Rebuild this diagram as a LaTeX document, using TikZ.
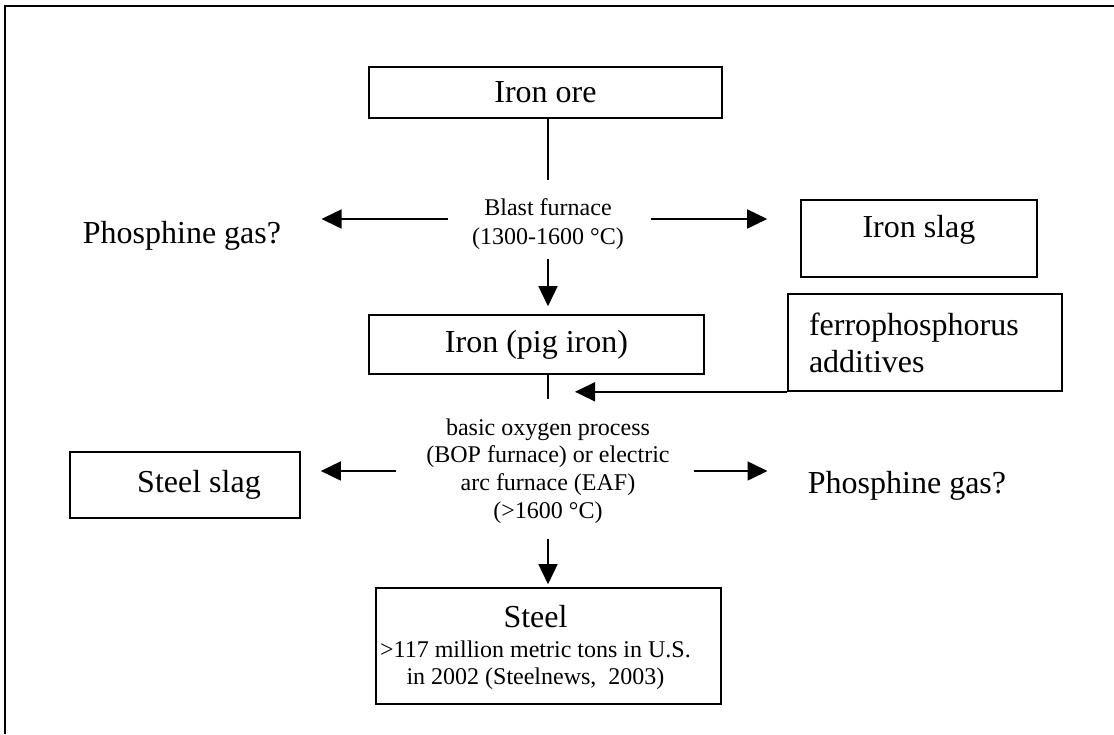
\documentclass[tikz,border=0pt]{standalone}
\usepackage{fontspec}
\setmainfont{Liberation Serif}
\usetikzlibrary{arrows.meta}
\newcommand{\fbig}{\fontsize{16}{18.5}\selectfont}
\newcommand{\fsmall}{\fontsize{12}{13.8}\selectfont}
\begin{document}
\begin{tikzpicture}[x=0.5pt,y=-0.5pt,
  box/.style={draw, line width=0.8pt, inner sep=0pt, font=\fbig},
  bigtext/.style={inner sep=0pt, font=\fbig},
  smalltext/.style={inner sep=0pt, font=\fsmall, align=center},
  conn/.style={line width=0.8pt},
  arr/.style={conn, -{Triangle[length=10pt,width=9.5pt]}}]
\useasboundingbox (0,0) rectangle (1114,734);
% outer frame (open at right and bottom)
\draw[line width=1.2pt] (5,734) -- (5,6) -- (1114,6);

% nodes
\node[box, minimum width=176.5pt, minimum height=25.5pt] (ore) at (545.5,92.5) {Iron ore};
\node[smalltext, font=\fontsize{12}{14.5}\selectfont] (blast) at (548,224) {Blast furnace\\(1300-1600 °C)};
\node[bigtext, anchor=base] (phos1) at (182,243) {Phosphine gas?};
\node[box, minimum width=118pt, minimum height=38.5pt, text depth=12.5pt] (slag1) at (919,238.5) {Iron slag};
\node[box, minimum width=167.5pt, minimum height=29.5pt] (pig) at (536.5,344.5) {Iron (pig iron)};
\node[box, align=left, text width=116pt, inner xsep=10.5pt, minimum height=48.5pt] (ferro) at (925,342.5) {ferrophosphorus\\additives};
\node[smalltext] (bop) at (548,471) {basic oxygen process\\(BOP furnace) or electric\\arc furnace (EAF)\\(>1600 °C)};
\node[box, minimum width=115pt, minimum height=33pt] (slag2) at (185,485) {\hspace*{14pt}Steel slag};
\node[bigtext, anchor=base] (phos2) at (907,493) {Phosphine gas?};
\node[box, minimum width=172.5pt, minimum height=58pt, font=\fsmall] (steel) at (548.5,646)
  {\begin{tabular}{@{}c@{\hspace{13pt}}}\rule{0pt}{14pt}{\fbig Steel}\\[1.2pt] >117 million metric tons in U.S.\\ in 2002 (Steelnews,\ \ 2003)\end{tabular}};

% connectors: blast furnace stage
\draw[conn] (ore.south -| blast.north) -- ([yshift=9pt]blast.north);
\path ([shift={(-12pt,2.5pt)}]blast.west) coordinate (bfw);
\draw[arr] (bfw) -- ([xshift=20pt]phos1.east |- bfw);
\path ([shift={(13.5pt,2.5pt)}]blast.east) coordinate (bfe);
\draw[arr] (bfe) -- ([xshift=-16.5pt]slag1.west |- bfe);
\draw[arr] ([yshift=-4.5pt]blast.south) -- ([yshift=4pt]blast.south |- pig.north);

% connectors: steelmaking stage
\draw[conn] (pig.south -| bop.north) -- ([yshift=9.5pt]bop.north);
\draw[arr] (ferro.south west) -- ([xshift=13.5pt]bop.north |- ferro.south west);
\draw[arr] ([xshift=-14.75pt]bop.west) -- ([xshift=10pt]slag2.east |- bop.west);
\draw[arr] ([xshift=11.75pt]bop.east) -- ([xshift=-20pt]phos2.west |- bop.east);
\draw[arr] ([yshift=-7.5pt]bop.south) -- ([yshift=1.5pt]bop.south |- steel.north);
\end{tikzpicture}
\end{document}
